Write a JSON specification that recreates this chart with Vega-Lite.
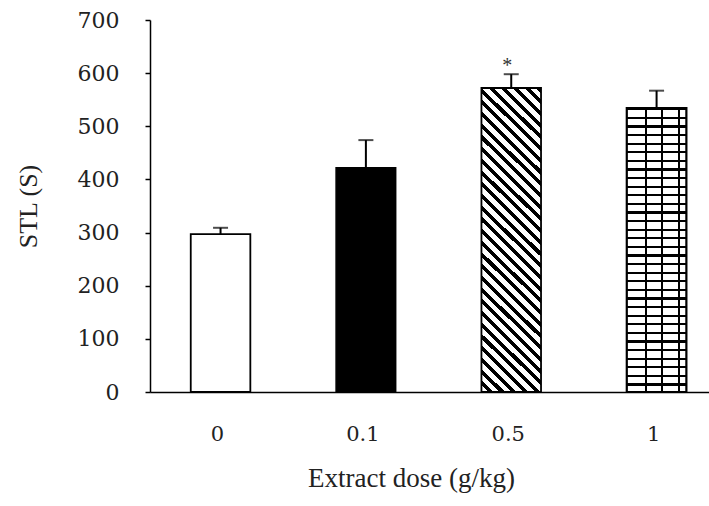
{
  "$schema": "https://vega.github.io/schema/vega-lite/v6.json",
  "width": 559,
  "height": 372,
  "autosize": {"type": "none"},
  "padding": {"left": 150, "top": 20, "right": 0, "bottom": 114},
  "background": "white",
  "config": {"view": {"stroke": null}, "font": "Liberation Serif"},
  "data": {"values": [
    {"dose": "0", "stl": 297, "upper": 309, "sig": ""},
    {"dose": "0.1", "stl": 422, "upper": 474, "sig": ""},
    {"dose": "0.5", "stl": 572, "upper": 598, "sig": "*"},
    {"dose": "1", "stl": 534, "upper": 567, "sig": ""}
  ]},
  "encoding": {
    "x": {
      "field": "dose", "type": "nominal",
      "scale": {"domain": ["0", "0.1", "0.5", "1"], "paddingInner": 0.59, "paddingOuter": 0.218, "align": 0.643},
      "axis": {
        "title": "Extract dose (g/kg)", "labelAngle": 0, "ticks": false,
        "domainColor": "black", "domainWidth": 1.5,
        "labelFont": "DejaVu Serif", "labelFontSize": 21, "labelColor": "#222", "labelPadding": 31, "labelOffset": -3,
        "titleFont": "Liberation Serif", "titleFontSize": 27, "titleFontWeight": "normal", "titleColor": "#222",
        "titlePadding": 21, "titleX": 261
      }
    },
    "y": {
      "field": "stl", "type": "quantitative",
      "scale": {"domain": [0, 700], "nice": false},
      "axis": {
        "title": "STL (S)", "values": [0, 100, 200, 300, 400, 500, 600, 700], "grid": false,
        "domainColor": "black", "domainWidth": 1.5, "tickColor": "black", "tickWidth": 1.5, "tickSize": 5,
        "labelFont": "DejaVu Serif", "labelFontSize": 22, "labelColor": "#222", "labelPadding": 26,
        "titleFont": "Liberation Serif", "titleFontSize": 26, "titleFontWeight": "normal", "titleColor": "#222",
        "titlePadding": 36
      }
    }
  },
  "layer": [
    {
      "transform": [{"filter": "datum.dose == '0'"}],
      "mark": {"type": "bar", "fill": "white", "stroke": "black", "strokeWidth": 1.8}
    },
    {
      "transform": [{"filter": "datum.dose == '0.1'"}],
      "mark": {"type": "bar", "fill": "black", "stroke": "black", "strokeWidth": 1.5}
    },
    {
      "transform": [{"filter": "datum.dose == '0.5'"}],
      "mark": {"type": "bar", "stroke": "black", "strokeWidth": 1.8, "fill": {
        "gradient": "linear", "x1": 1, "y1": 0, "x2": 0.7768, "y2": 1.1507,
        "stops": [
          {"offset": 0, "color": "black"}, {"offset": 0.014, "color": "black"}, {"offset": 0.014, "color": "white"},
          {"offset": 0.0323, "color": "white"}, {"offset": 0.0323, "color": "black"}, {"offset": 0.0463, "color": "black"}, {"offset": 0.0463, "color": "white"},
          {"offset": 0.0645, "color": "white"}, {"offset": 0.0645, "color": "black"}, {"offset": 0.0785, "color": "black"}, {"offset": 0.0785, "color": "white"},
          {"offset": 0.0968, "color": "white"}, {"offset": 0.0968, "color": "black"}, {"offset": 0.1108, "color": "black"}, {"offset": 0.1108, "color": "white"},
          {"offset": 0.1290, "color": "white"}, {"offset": 0.1290, "color": "black"}, {"offset": 0.1430, "color": "black"}, {"offset": 0.1430, "color": "white"},
          {"offset": 0.1613, "color": "white"}, {"offset": 0.1613, "color": "black"}, {"offset": 0.1753, "color": "black"}, {"offset": 0.1753, "color": "white"},
          {"offset": 0.1935, "color": "white"}, {"offset": 0.1935, "color": "black"}, {"offset": 0.2075, "color": "black"}, {"offset": 0.2075, "color": "white"},
          {"offset": 0.2258, "color": "white"}, {"offset": 0.2258, "color": "black"}, {"offset": 0.2398, "color": "black"}, {"offset": 0.2398, "color": "white"},
          {"offset": 0.2581, "color": "white"}, {"offset": 0.2581, "color": "black"}, {"offset": 0.2721, "color": "black"}, {"offset": 0.2721, "color": "white"},
          {"offset": 0.2903, "color": "white"}, {"offset": 0.2903, "color": "black"}, {"offset": 0.3043, "color": "black"}, {"offset": 0.3043, "color": "white"},
          {"offset": 0.3226, "color": "white"}, {"offset": 0.3226, "color": "black"}, {"offset": 0.3366, "color": "black"}, {"offset": 0.3366, "color": "white"},
          {"offset": 0.3548, "color": "white"}, {"offset": 0.3548, "color": "black"}, {"offset": 0.3688, "color": "black"}, {"offset": 0.3688, "color": "white"},
          {"offset": 0.3871, "color": "white"}, {"offset": 0.3871, "color": "black"}, {"offset": 0.4011, "color": "black"}, {"offset": 0.4011, "color": "white"},
          {"offset": 0.4194, "color": "white"}, {"offset": 0.4194, "color": "black"}, {"offset": 0.4334, "color": "black"}, {"offset": 0.4334, "color": "white"},
          {"offset": 0.4516, "color": "white"}, {"offset": 0.4516, "color": "black"}, {"offset": 0.4656, "color": "black"}, {"offset": 0.4656, "color": "white"},
          {"offset": 0.4839, "color": "white"}, {"offset": 0.4839, "color": "black"}, {"offset": 0.4979, "color": "black"}, {"offset": 0.4979, "color": "white"},
          {"offset": 0.5161, "color": "white"}, {"offset": 0.5161, "color": "black"}, {"offset": 0.5301, "color": "black"}, {"offset": 0.5301, "color": "white"},
          {"offset": 0.5484, "color": "white"}, {"offset": 0.5484, "color": "black"}, {"offset": 0.5624, "color": "black"}, {"offset": 0.5624, "color": "white"},
          {"offset": 0.5806, "color": "white"}, {"offset": 0.5806, "color": "black"}, {"offset": 0.5946, "color": "black"}, {"offset": 0.5946, "color": "white"},
          {"offset": 0.6129, "color": "white"}, {"offset": 0.6129, "color": "black"}, {"offset": 0.6269, "color": "black"}, {"offset": 0.6269, "color": "white"},
          {"offset": 0.6452, "color": "white"}, {"offset": 0.6452, "color": "black"}, {"offset": 0.6592, "color": "black"}, {"offset": 0.6592, "color": "white"},
          {"offset": 0.6774, "color": "white"}, {"offset": 0.6774, "color": "black"}, {"offset": 0.6914, "color": "black"}, {"offset": 0.6914, "color": "white"},
          {"offset": 0.7097, "color": "white"}, {"offset": 0.7097, "color": "black"}, {"offset": 0.7237, "color": "black"}, {"offset": 0.7237, "color": "white"},
          {"offset": 0.7419, "color": "white"}, {"offset": 0.7419, "color": "black"}, {"offset": 0.7559, "color": "black"}, {"offset": 0.7559, "color": "white"},
          {"offset": 0.7742, "color": "white"}, {"offset": 0.7742, "color": "black"}, {"offset": 0.7882, "color": "black"}, {"offset": 0.7882, "color": "white"},
          {"offset": 0.8065, "color": "white"}, {"offset": 0.8065, "color": "black"}, {"offset": 0.8205, "color": "black"}, {"offset": 0.8205, "color": "white"},
          {"offset": 0.8387, "color": "white"}, {"offset": 0.8387, "color": "black"}, {"offset": 0.8527, "color": "black"}, {"offset": 0.8527, "color": "white"},
          {"offset": 0.8710, "color": "white"}, {"offset": 0.8710, "color": "black"}, {"offset": 0.8850, "color": "black"}, {"offset": 0.8850, "color": "white"},
          {"offset": 0.9032, "color": "white"}, {"offset": 0.9032, "color": "black"}, {"offset": 0.9172, "color": "black"}, {"offset": 0.9172, "color": "white"},
          {"offset": 0.9355, "color": "white"}, {"offset": 0.9355, "color": "black"}, {"offset": 0.9495, "color": "black"}, {"offset": 0.9495, "color": "white"},
          {"offset": 0.9677, "color": "white"}, {"offset": 0.9677, "color": "black"}, {"offset": 0.9817, "color": "black"}, {"offset": 0.9817, "color": "white"},
          {"offset": 1, "color": "white"}
        ]
      }}
    },
    {
      "transform": [{"filter": "datum.dose == '1'"}],
      "mark": {"type": "bar", "stroke": "black", "strokeWidth": 2.2, "fill": {
        "gradient": "linear", "x1": 0, "y1": 0, "x2": 0, "y2": 1,
        "stops": [
          {"offset": 0, "color": "black"}, {"offset": 0.008, "color": "black"}, {"offset": 0.008, "color": "white"},
          {"offset": 0.0303, "color": "white"}, {"offset": 0.0303, "color": "black"}, {"offset": 0.0383, "color": "black"}, {"offset": 0.0383, "color": "white"},
          {"offset": 0.0606, "color": "white"}, {"offset": 0.0606, "color": "black"}, {"offset": 0.0686, "color": "black"}, {"offset": 0.0686, "color": "white"},
          {"offset": 0.0909, "color": "white"}, {"offset": 0.0909, "color": "black"}, {"offset": 0.0989, "color": "black"}, {"offset": 0.0989, "color": "white"},
          {"offset": 0.1212, "color": "white"}, {"offset": 0.1212, "color": "black"}, {"offset": 0.1292, "color": "black"}, {"offset": 0.1292, "color": "white"},
          {"offset": 0.1515, "color": "white"}, {"offset": 0.1515, "color": "black"}, {"offset": 0.1595, "color": "black"}, {"offset": 0.1595, "color": "white"},
          {"offset": 0.1818, "color": "white"}, {"offset": 0.1818, "color": "black"}, {"offset": 0.1898, "color": "black"}, {"offset": 0.1898, "color": "white"},
          {"offset": 0.2121, "color": "white"}, {"offset": 0.2121, "color": "black"}, {"offset": 0.2201, "color": "black"}, {"offset": 0.2201, "color": "white"},
          {"offset": 0.2424, "color": "white"}, {"offset": 0.2424, "color": "black"}, {"offset": 0.2504, "color": "black"}, {"offset": 0.2504, "color": "white"},
          {"offset": 0.2727, "color": "white"}, {"offset": 0.2727, "color": "black"}, {"offset": 0.2807, "color": "black"}, {"offset": 0.2807, "color": "white"},
          {"offset": 0.3030, "color": "white"}, {"offset": 0.3030, "color": "black"}, {"offset": 0.3110, "color": "black"}, {"offset": 0.3110, "color": "white"},
          {"offset": 0.3333, "color": "white"}, {"offset": 0.3333, "color": "black"}, {"offset": 0.3413, "color": "black"}, {"offset": 0.3413, "color": "white"},
          {"offset": 0.3636, "color": "white"}, {"offset": 0.3636, "color": "black"}, {"offset": 0.3716, "color": "black"}, {"offset": 0.3716, "color": "white"},
          {"offset": 0.3939, "color": "white"}, {"offset": 0.3939, "color": "black"}, {"offset": 0.4019, "color": "black"}, {"offset": 0.4019, "color": "white"},
          {"offset": 0.4242, "color": "white"}, {"offset": 0.4242, "color": "black"}, {"offset": 0.4322, "color": "black"}, {"offset": 0.4322, "color": "white"},
          {"offset": 0.4545, "color": "white"}, {"offset": 0.4545, "color": "black"}, {"offset": 0.4625, "color": "black"}, {"offset": 0.4625, "color": "white"},
          {"offset": 0.4848, "color": "white"}, {"offset": 0.4848, "color": "black"}, {"offset": 0.4928, "color": "black"}, {"offset": 0.4928, "color": "white"},
          {"offset": 0.5152, "color": "white"}, {"offset": 0.5152, "color": "black"}, {"offset": 0.5232, "color": "black"}, {"offset": 0.5232, "color": "white"},
          {"offset": 0.5455, "color": "white"}, {"offset": 0.5455, "color": "black"}, {"offset": 0.5535, "color": "black"}, {"offset": 0.5535, "color": "white"},
          {"offset": 0.5758, "color": "white"}, {"offset": 0.5758, "color": "black"}, {"offset": 0.5838, "color": "black"}, {"offset": 0.5838, "color": "white"},
          {"offset": 0.6061, "color": "white"}, {"offset": 0.6061, "color": "black"}, {"offset": 0.6141, "color": "black"}, {"offset": 0.6141, "color": "white"},
          {"offset": 0.6364, "color": "white"}, {"offset": 0.6364, "color": "black"}, {"offset": 0.6444, "color": "black"}, {"offset": 0.6444, "color": "white"},
          {"offset": 0.6667, "color": "white"}, {"offset": 0.6667, "color": "black"}, {"offset": 0.6747, "color": "black"}, {"offset": 0.6747, "color": "white"},
          {"offset": 0.6970, "color": "white"}, {"offset": 0.6970, "color": "black"}, {"offset": 0.7050, "color": "black"}, {"offset": 0.7050, "color": "white"},
          {"offset": 0.7273, "color": "white"}, {"offset": 0.7273, "color": "black"}, {"offset": 0.7353, "color": "black"}, {"offset": 0.7353, "color": "white"},
          {"offset": 0.7576, "color": "white"}, {"offset": 0.7576, "color": "black"}, {"offset": 0.7656, "color": "black"}, {"offset": 0.7656, "color": "white"},
          {"offset": 0.7879, "color": "white"}, {"offset": 0.7879, "color": "black"}, {"offset": 0.7959, "color": "black"}, {"offset": 0.7959, "color": "white"},
          {"offset": 0.8182, "color": "white"}, {"offset": 0.8182, "color": "black"}, {"offset": 0.8262, "color": "black"}, {"offset": 0.8262, "color": "white"},
          {"offset": 0.8485, "color": "white"}, {"offset": 0.8485, "color": "black"}, {"offset": 0.8565, "color": "black"}, {"offset": 0.8565, "color": "white"},
          {"offset": 0.8788, "color": "white"}, {"offset": 0.8788, "color": "black"}, {"offset": 0.8868, "color": "black"}, {"offset": 0.8868, "color": "white"},
          {"offset": 0.9091, "color": "white"}, {"offset": 0.9091, "color": "black"}, {"offset": 0.9171, "color": "black"}, {"offset": 0.9171, "color": "white"},
          {"offset": 0.9394, "color": "white"}, {"offset": 0.9394, "color": "black"}, {"offset": 0.9474, "color": "black"}, {"offset": 0.9474, "color": "white"},
          {"offset": 0.9697, "color": "white"}, {"offset": 0.9697, "color": "black"}, {"offset": 0.9777, "color": "black"}, {"offset": 0.9777, "color": "white"},
          {"offset": 1, "color": "white"}
        ]
      }}
    },
    {
      "transform": [{"filter": "datum.dose == '1'"}],
      "mark": {"type": "bar", "stroke": null, "fill": {
        "gradient": "linear", "x1": 0, "y1": 0, "x2": 1, "y2": 0,
        "stops": [
          {"offset": 0, "color": "rgba(0,0,0,0)"},
          {"offset": 0.3, "color": "rgba(0,0,0,0)"}, {"offset": 0.3, "color": "black"}, {"offset": 0.333, "color": "black"}, {"offset": 0.333, "color": "rgba(0,0,0,0)"},
          {"offset": 0.58, "color": "rgba(0,0,0,0)"}, {"offset": 0.58, "color": "black"}, {"offset": 0.613, "color": "black"}, {"offset": 0.613, "color": "rgba(0,0,0,0)"},
          {"offset": 0.86, "color": "rgba(0,0,0,0)"}, {"offset": 0.86, "color": "black"}, {"offset": 0.893, "color": "black"}, {"offset": 0.893, "color": "rgba(0,0,0,0)"},
          {"offset": 1, "color": "rgba(0,0,0,0)"}
        ]
      }}
    },
    {
      "mark": {"type": "rule", "color": "black", "strokeWidth": 2},
      "encoding": {"y": {"field": "stl", "type": "quantitative"}, "y2": {"field": "upper"}}
    },
    {
      "mark": {"type": "tick", "color": "black", "size": 15, "thickness": 2},
      "encoding": {"y": {"field": "upper", "type": "quantitative"}}
    },
    {
      "mark": {"type": "text", "fontSize": 20, "font": "Liberation Serif", "color": "#333", "baseline": "middle", "dy": -8, "dx": -4},
      "encoding": {"y": {"field": "upper", "type": "quantitative"}, "text": {"field": "sig"}}
    }
  ]
}
